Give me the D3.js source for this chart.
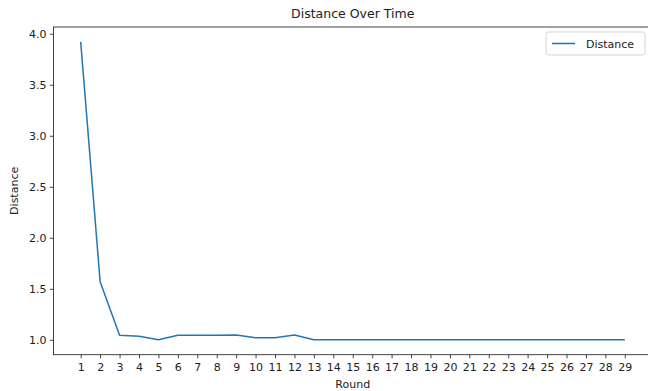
<!DOCTYPE html>
<html>
<head>
<meta charset="utf-8">
<script src="https://d3js.org/d3.v7.min.js"></script>
<style>
  body { margin: 0; background: #fff; }
  svg { display: block; font-family: "DejaVu Sans", sans-serif; }
</style>
</head>
<body>
<div id="chart"></div>
<script>
// Data
const rounds = d3.range(1, 30);
const distance = [3.92, 1.57, 1.045, 1.035, 1.0, 1.045, 1.045, 1.045, 1.048, 1.02,
                  1.02, 1.048, 1.0, 1.0, 1.0, 1.0, 1.0, 1.0, 1.0, 1.0,
                  1.0, 1.0, 1.0, 1.0, 1.0, 1.0, 1.0, 1.0, 1.0];
const yTicks = [1.0, 1.5, 2.0, 2.5, 3.0, 3.5, 4.0];
const seriesName = "Distance";

const width = 648;
const height = 391;
const margin = { left: 53.5, right: 648 - 652, top: 27, bottom: 391 - 354.7 };
const lineColor = "#1f77b4";
const tickFont = "11px";

const svg = d3.select("#chart").append("svg")
    .attr("width", width)
    .attr("height", height);

// matplotlib-style 5% margins around data
const xPad = (d3.max(rounds) - d3.min(rounds)) * 0.05;
const yExt = d3.extent(distance);
const yPad = (yExt[1] - yExt[0]) * 0.05;

const x = d3.scaleLinear()
    .domain([d3.min(rounds) - xPad, d3.max(rounds) + xPad])
    .range([margin.left, width - margin.right]);
const y = d3.scaleLinear()
    .domain([yExt[0] - yPad, yExt[1] + yPad])
    .range([height - margin.bottom, margin.top]);

// Axes
const xAxis = svg.append("g")
    .attr("transform", `translate(0,${height - margin.bottom})`)
    .call(d3.axisBottom(x).tickValues(rounds).tickSize(3.6).tickPadding(5).tickSizeOuter(0));
const yAxis = svg.append("g")
    .attr("transform", `translate(${margin.left},0)`)
    .call(d3.axisLeft(y).tickValues(yTicks).tickFormat(d3.format(".1f")).tickSize(3.6).tickPadding(3.5).tickSizeOuter(0));

[xAxis, yAxis].forEach(a => {
    a.selectAll("text").style("font-size", tickFont).style("font-family", "DejaVu Sans").attr("fill", "#222");
    a.selectAll("line").attr("stroke", "#222").attr("stroke-width", 0.85);
    a.select(".domain").remove();
});

// Spines
svg.append("rect")
    .attr("x", margin.left)
    .attr("y", margin.top)
    .attr("width", width - margin.right - margin.left)
    .attr("height", height - margin.bottom - margin.top)
    .attr("fill", "none")
    .attr("stroke", "#222")
    .attr("stroke-width", 0.85);

// Line
const line = d3.line()
    .x((d, i) => x(rounds[i]))
    .y(d => y(d));

svg.append("path")
    .datum(distance)
    .attr("fill", "none")
    .attr("stroke", lineColor)
    .attr("stroke-width", 1.5)
    .attr("stroke-linejoin", "round")
    .attr("d", line);

// Title and labels
const cx = (margin.left + width - margin.right) / 2;
svg.append("text")
    .attr("x", cx)
    .attr("y", 18)
    .attr("text-anchor", "middle")
    .style("font-size", "12.5px")
    .attr("fill", "#222")
    .text("Distance Over Time");

svg.append("text")
    .attr("x", cx)
    .attr("y", 387.5)
    .attr("text-anchor", "middle")
    .style("font-size", tickFont)
    .attr("fill", "#222")
    .text("Round");

svg.append("text")
    .attr("transform", `translate(18,${(margin.top + height - margin.bottom) / 2}) rotate(-90)`)
    .attr("text-anchor", "middle")
    .style("font-size", tickFont)
    .attr("fill", "#222")
    .text("Distance");

// Legend
const legend = svg.append("g").attr("transform", "translate(546,32)");
legend.append("rect")
    .attr("width", 99)
    .attr("height", 23)
    .attr("rx", 2.5)
    .attr("fill", "#fff")
    .attr("fill-opacity", 0.8)
    .attr("stroke", "#ccc")
    .attr("stroke-width", 0.85);
legend.append("line")
    .attr("x1", 6).attr("x2", 29)
    .attr("y1", 11.5).attr("y2", 11.5)
    .attr("stroke", lineColor)
    .attr("stroke-width", 1.5);
legend.append("text")
    .attr("x", 40)
    .attr("y", 15.5)
    .style("font-size", tickFont)
    .attr("fill", "#222")
    .text(seriesName);
</script>
</body>
</html>
